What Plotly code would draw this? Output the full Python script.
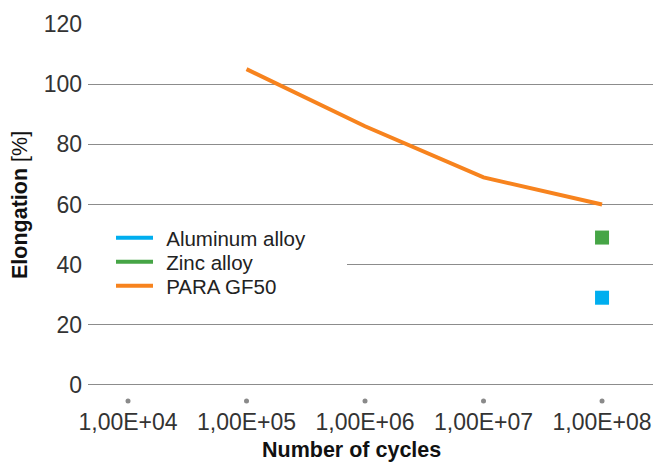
import plotly.graph_objects as go

categories = ["1,00E+04", "1,00E+05", "1,00E+06", "1,00E+07", "1,00E+08"]
para_gf50 = [None, 105, 86, 69, 60]
zinc_alloy = [None, None, None, None, 49]
aluminum_alloy = [None, None, None, None, 29]
y_ticks = [0, 20, 40, 60, 80, 100, 120]

xpos = list(range(len(categories)))
BLUE = "#00AEEF"
GREEN = "#46A546"
ORANGE = "#F7831E"
FONT = "Liberation Sans, Arial, sans-serif"
PAD = "\u2009\u2009"

fig = go.Figure()

# category dots below axis
fig.add_trace(go.Scatter(x=xpos, y=[-5.3] * len(xpos), mode="markers",
                         marker=dict(color="#8a8a8a", size=5), showlegend=False,
                         hoverinfo="skip", cliponaxis=False))

# legend entries (line swatches), one legend each for exact spacing
fig.add_trace(go.Scatter(x=[None], y=[None], mode="lines", name=PAD + "Aluminum alloy",
                         line=dict(color=BLUE, width=4), legendgroup="al", legend="legend"))
fig.add_trace(go.Scatter(x=[None], y=[None], mode="lines", name=PAD + "Zinc alloy",
                         line=dict(color=GREEN, width=4), legendgroup="zn", legend="legend2"))
fig.add_trace(go.Scatter(x=xpos, y=para_gf50, mode="lines", name=PAD + "PARA GF50",
                         line=dict(color=ORANGE, width=4), legendgroup="pa", legend="legend3"))

fig.add_trace(go.Scatter(x=xpos, y=aluminum_alloy, mode="markers", showlegend=False,
                         marker=dict(symbol="square", size=14, color=BLUE), legendgroup="al"))
fig.add_trace(go.Scatter(x=xpos, y=zinc_alloy, mode="markers", showlegend=False,
                         marker=dict(symbol="square", size=14, color=GREEN), legendgroup="zn"))

L, T, B = 88, 24, 403
PW = 653 - L
PH = B - T
leg = dict(x=(111 - L) / PW, xanchor="left", yanchor="middle", bgcolor="rgba(0,0,0,0)",
           font=dict(size=20.5, color="#222"), itemwidth=37)

fig.update_layout(
    width=653, height=463,
    margin=dict(l=L, r=0, t=T, b=463 - B),
    paper_bgcolor="white", plot_bgcolor="white",
    font=dict(family=FONT, color="#222", size=20),
    showlegend=True,
    legend=dict(leg, y=(B - 238) / PH),
    legend2=dict(leg, y=(B - 262) / PH),
    legend3=dict(leg, y=(B - 286) / PH),
    xaxis=dict(range=[-0.3376, 4.43], tickmode="array", tickvals=xpos, ticktext=categories,
               showgrid=False, zeroline=False, showline=False, ticks="", automargin=False,
               ticklabelstandoff=3, ticklabeloverflow="allow",
               tickfont=dict(size=23, color="#333")),
    yaxis=dict(range=[-6, 120], tickmode="array", tickvals=y_ticks,
               showgrid=True, gridcolor="#8c8c8c", gridwidth=1, zeroline=False,
               showline=False, ticks="", ticklabelstandoff=5, automargin=False,
               tickfont=dict(size=23, color="#333")),
    annotations=[
        dict(text="<b>Number of cycles</b>", xref="paper", yref="paper",
             x=(351.5 - L) / PW, y=(B - 450) / PH, xanchor="center", yanchor="middle",
             showarrow=False, font=dict(size=21.5, color="#111")),
        dict(text="<b>Elongation</b> [%]", xref="paper", yref="paper", textangle=-90,
             x=(20 - L) / PW, y=(B - 205) / PH, xanchor="center", yanchor="middle",
             showarrow=False, font=dict(size=21.5, color="#111")),
    ],
    shapes=[dict(type="rect", xref="paper", yref="paper", x0=0, x1=(347 - L) / PW,
                 y0=(B - 268) / PH, y1=(B - 262) / PH,
                 fillcolor="white", line=dict(width=0), layer="above")],
)

fig.write_html("out.html", config={"displayModeBar": False},
               post_script="document.body.style.margin='0';document.body.style.overflow='hidden';")
